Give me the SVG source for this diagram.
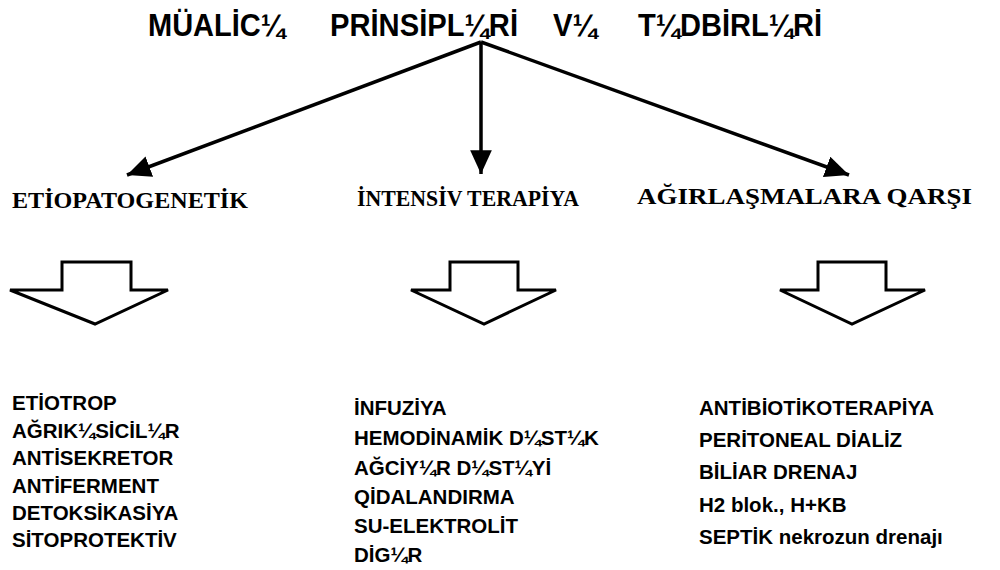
<svg xmlns="http://www.w3.org/2000/svg" width="1000" height="570" viewBox="0 0 1000 570">
<style>
.title{font-family:"Liberation Sans",Arial,sans-serif;font-weight:bold;font-size:31px;fill:#000}
.cat{font-family:"Liberation Serif","Times New Roman",serif;font-weight:bold;font-size:23px;fill:#000}
.item{font-family:"Liberation Sans",Arial,sans-serif;font-weight:bold;font-size:20.5px;fill:#000}
.conn{stroke:#000;stroke-width:3.5;fill:none}
.block{fill:#fff;stroke:#000;stroke-width:3;stroke-linejoin:miter}
</style>
<defs>
<marker id="ah" markerUnits="userSpaceOnUse" markerWidth="26" markerHeight="22" refX="22" refY="10" orient="auto" viewBox="0 0 24 20">
<path d="M0,0 L22,10 L0,20 z" fill="#000"/>
</marker>
</defs>
<rect width="1000" height="570" fill="#fff"/>
<g id="title">
<text class="title" x="148" y="36" textLength="137" lengthAdjust="spacingAndGlyphs">MÜALİC¼</text>
<text class="title" x="330" y="36" textLength="188" lengthAdjust="spacingAndGlyphs">PRİNSİPL¼Rİ</text>
<text class="title" x="553" y="36" textLength="44" lengthAdjust="spacingAndGlyphs">V¼</text>
<text class="title" x="638" y="36" textLength="184" lengthAdjust="spacingAndGlyphs">T¼DBİRL¼Rİ</text>
</g>
<g id="connectors">
<line class="conn" x1="481" y1="42" x2="127" y2="175" marker-end="url(#ah)"/>
<line class="conn" x1="481" y1="42" x2="481" y2="174" marker-end="url(#ah)"/>
<line class="conn" x1="481" y1="42" x2="849" y2="175" marker-end="url(#ah)"/>
</g>
<g id="cat-etio"><text class="cat" x="12" y="208" textLength="236" lengthAdjust="spacingAndGlyphs">ETİOPATOGENETİK</text></g>
<g id="cat-intensiv"><text class="cat" x="357" y="206" textLength="222" lengthAdjust="spacingAndGlyphs">İNTENSİV TERAPİYA</text></g>
<g id="cat-agirlasma"><text class="cat" x="637" y="204" textLength="335" lengthAdjust="spacingAndGlyphs">AĞIRLAŞMALARA QARŞI</text></g>
<g id="block-left"><path class="block" d="M62,262 H131 V290 H168 L95,324 L10,290 H62 Z"/></g>
<g id="block-mid"><path class="block" d="M450,262 H518 V290 H556 L484,324 L411,290 H450 Z"/></g>
<g id="block-right"><path class="block" d="M818,262 H886 V290 H925 L852,324 L780,290 H818 Z"/></g>
<g id="list-left">
<text class="item" x="12" y="410">ETİOTROP</text>
<text class="item" x="12" y="438">AĞRIK¼SİCİL¼R</text>
<text class="item" x="12" y="465">ANTİSEKRETOR</text>
<text class="item" x="12" y="493">ANTİFERMENT</text>
<text class="item" x="12" y="520">DETOKSİKASİYA</text>
<text class="item" x="12" y="547">SİTOPROTEKTİV</text>
</g>
<g id="list-mid">
<text class="item" x="354" y="415">İNFUZİYA</text>
<text class="item" x="354" y="445">HEMODİNAMİK D¼ST¼K</text>
<text class="item" x="354" y="475">AĞCİY¼R D¼ST¼Yİ</text>
<text class="item" x="354" y="504">QİDALANDIRMA</text>
<text class="item" x="354" y="533">SU-ELEKTROLİT</text>
<text class="item" x="354" y="562">DİG¼R</text>
</g>
<g id="list-right">
<text class="item" x="699" y="415">ANTİBİOTİKOTERAPİYA</text>
<text class="item" x="699" y="447">PERİTONEAL DİALİZ</text>
<text class="item" x="699" y="479">BİLİAR DRENAJ</text>
<text class="item" x="699" y="512">H2 blok., H+KB</text>
<text class="item" x="699" y="544">SEPTİK nekrozun drenajı</text>
</g>
</svg>
